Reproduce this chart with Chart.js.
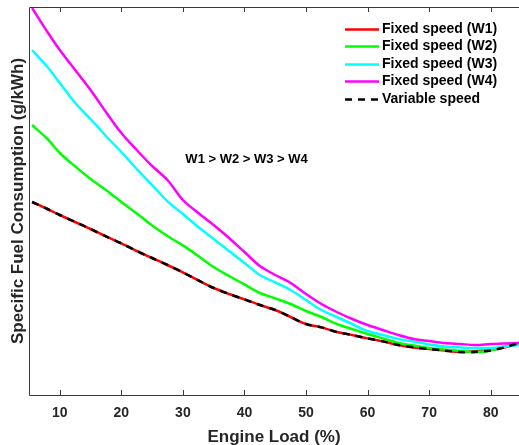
<!DOCTYPE html>
<html lang="en">
<head>
  <meta charset="UTF-8" />
  <title>Specific Fuel Consumption vs Engine Load</title>
  <script src="https://cdn.jsdelivr.net/npm/chart.js"></script>
  <style>
    html, body { margin: 0; padding: 0; background: #fff; }
    #wrap { width: 519px; height: 445px; }
  </style>
</head>
<body>
  <div id="wrap"><canvas id="sfcChart" width="519" height="445"></canvas></div>

  <script>
    // engine load (%) sample points
    const loads = [5.5, 8, 10, 12.5, 15, 17.5, 20, 22.5, 25, 27.5, 30, 32.5, 35, 37.5, 40, 42.5,
                   45, 47.5, 50, 52.5, 55, 57.5, 60, 62.5, 65, 67.5, 70, 72.5, 75, 77.5, 80, 82.5, 84.6];

    // specific fuel consumption (arbitrary g/kWh scale, no y ticks in original)
    const sfcW1 = [296.5, 293, 290, 286.5, 283, 279.3, 275.8, 272, 268.5, 265, 261.3, 257.3, 253.5, 250.5, 247.8, 245,
                   242.5, 239, 235.5, 233.8, 231.5, 230, 228.3, 226.8, 225, 223.8, 223, 222.2, 221.5, 222, 222.5, 224, 226];
    const sfcW2 = [335, 328, 321, 314.3, 308, 302.5, 296.5, 290.8, 284.8, 279.5, 274.8, 269.5, 264, 259.5, 255.3, 251,
                   248.3, 245.5, 242, 239, 235.5, 233, 230.5, 228.3, 226, 224.8, 223.5, 222.8, 222, 221.5, 222.3, 224.5, 226];
    const sfcW3 = [372.5, 364, 356, 346, 338, 329.5, 321.5, 313, 305, 296.8, 290.5, 284, 278, 272, 266, 260,
                   256.3, 252.5, 247.5, 242.5, 239, 235.5, 232, 230, 228, 226.8, 225.3, 224.3, 223.8, 223.5, 223.5, 224.3, 225];
    const sfcW4 = [393.5, 381.5, 372.5, 362.5, 352.5, 341.5, 331, 322.5, 314.5, 307.5, 297.5, 291, 285, 278.5, 271.5, 264.5,
                   260, 256, 250.5, 245.5, 241.5, 238, 235, 232.5, 230, 228, 227, 226, 225.5, 225, 225.5, 225.8, 226];
    const sfcVar = [296.5, 293, 290, 286.5, 283, 279.3, 275.8, 272, 268.5, 265, 261.3, 257.3, 253.5, 250.5, 247.8, 245,
                    242.5, 239, 235.5, 233.8, 231.5, 230, 228.3, 226.8, 225, 223.8, 223, 222.2, 221.5, 221.5, 222.3, 224, 226];

    const xTicks = [10, 20, 30, 40, 50, 60, 70, 80];
    const seriesLabels = ['Fixed speed (W1)', 'Fixed speed (W2)', 'Fixed speed (W3)', 'Fixed speed (W4)', 'Variable speed'];
    const noteText = 'W1 > W2 > W3 > W4';
    const notePos = { x: 30.4, y: 318 };

    const FONT = '"Liberation Sans", Arial, sans-serif';
    const AXIS_COLOR = '#3a3a3a';

    function pts(ys) {
      return loads.map((x, i) => ({ x: x, y: ys[i] }));
    }

    function line(label, ys, color, order, dash) {
      return {
        label: label,
        data: pts(ys),
        borderColor: color,
        backgroundColor: color,
        borderWidth: 2.5,
        borderDash: dash || [],
        pointRadius: 0,
        tension: 0.3,
        fill: false,
        order: order
      };
    }

    // box lines, inward ticks, note text and legend
    const decorations = {
      id: 'decorations',
      afterDatasetsDraw(chart) {
        const { ctx, chartArea: a, scales: { x, y } } = chart;
        ctx.save();
        ctx.strokeStyle = AXIS_COLOR;
        ctx.lineWidth = 1;
        ctx.beginPath();
        ctx.moveTo(a.right, a.top + 0.5); ctx.lineTo(a.left + 0.5, a.top + 0.5);
        ctx.lineTo(a.left + 0.5, a.bottom + 0.5); ctx.lineTo(a.right, a.bottom + 0.5);
        xTicks.forEach(v => {
          const px = Math.round(x.getPixelForValue(v)) + 0.5;
          ctx.moveTo(px, a.bottom); ctx.lineTo(px, a.bottom - 5);
          ctx.moveTo(px, a.top); ctx.lineTo(px, a.top + 5);
        });
        ctx.stroke();

        // annotation
        ctx.fillStyle = '#000';
        ctx.font = 'bold 13px ' + FONT;
        ctx.textBaseline = 'middle';
        ctx.textAlign = 'left';
        ctx.fillText(noteText, x.getPixelForValue(notePos.x), y.getPixelForValue(notePos.y));

        // legend
        ctx.font = 'bold 14px ' + FONT;
        const lx = 345, ly = 29, rowH = 17.4;
        seriesLabels.forEach((lbl, i) => {
          const ds = chart.data.datasets[i];
          const yy = Math.round(ly + i * rowH) + 0.5;
          ctx.strokeStyle = ds.borderColor;
          ctx.lineWidth = 2.5;
          ctx.setLineDash(ds.borderDash);
          ctx.beginPath();
          ctx.moveTo(lx, yy); ctx.lineTo(lx + 34, yy);
          ctx.stroke();
          ctx.setLineDash([]);
          ctx.fillStyle = '#000';
          ctx.fillText(lbl, lx + 37, yy);
        });
        ctx.restore();
      }
    };

    new Chart(document.getElementById('sfcChart'), {
      type: 'line',
      data: {
        datasets: [
          line(seriesLabels[0], sfcW1, '#ff0000', 4),
          line(seriesLabels[1], sfcW2, '#00ff00', 3),
          line(seriesLabels[2], sfcW3, '#00ffff', 2),
          line(seriesLabels[3], sfcW4, '#ff00ff', 1),
          line(seriesLabels[4], sfcVar, '#000000', 0, [7, 6])
        ]
      },
      options: {
        responsive: false,
        animation: false,
        devicePixelRatio: 1,
        layout: { padding: { top: 7, right: 0, left: 0, bottom: 0 } },
        plugins: {
          legend: { display: false },
          tooltip: { enabled: false }
        },
        scales: {
          x: {
            type: 'linear',
            min: 5,
            max: 84.6,
            grid: { display: false, drawTicks: false },
            border: { display: false },
            afterBuildTicks: s => { s.ticks = xTicks.map(v => ({ value: v })); },
            afterFit: s => { s.height = 50; },
            ticks: {
              padding: 10,
              color: '#262626',
              font: { family: FONT, size: 14, weight: 'bold' },
              maxRotation: 0
            },
            title: {
              display: true,
              text: 'Engine Load (%)',
              color: '#262626',
              padding: { top: 0, bottom: -3 },
              font: { family: FONT, size: 17, weight: 'bold' }
            }
          },
          y: {
            min: 200,
            max: 394,
            grid: { display: false, drawTicks: false },
            border: { display: false },
            ticks: { display: false },
            afterFit: s => { s.width = 29; },
            title: {
              display: true,
              text: 'Specific Fuel Consumption (g/kWh)',
              color: '#262626',
              padding: { top: 8, bottom: 0 },
              font: { family: FONT, size: 17, weight: 'bold' }
            }
          }
        }
      },
      plugins: [decorations]
    });
  </script>
</body>
</html>
